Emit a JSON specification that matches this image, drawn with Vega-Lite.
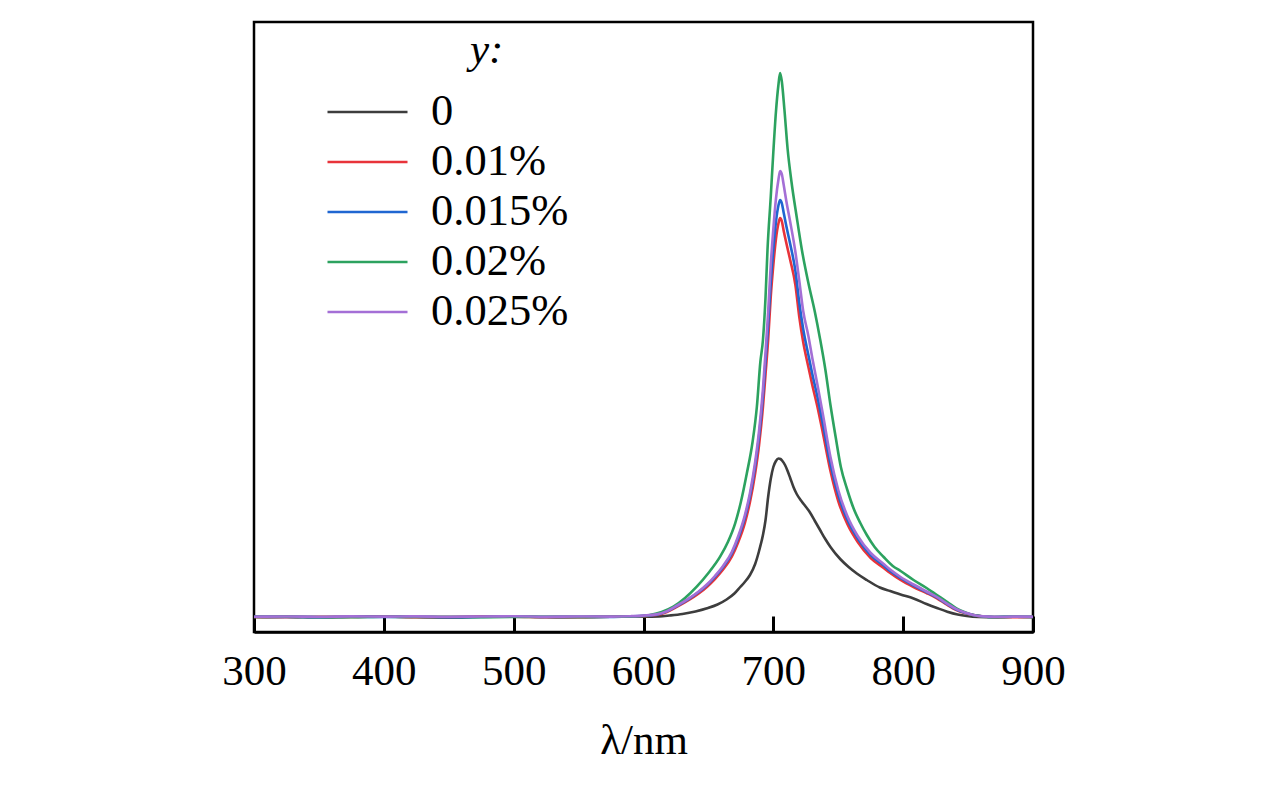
{
  "$schema": "https://vega.github.io/schema/vega-lite/v6.json",
  "autosize": {"type": "none"},
  "padding": {"left": 254, "top": 22, "right": 243, "bottom": 155},
  "width": 779,
  "height": 610,
  "background": "white",
  "title": {
    "text": "y:",
    "anchor": "start",
    "frame": "group",
    "dx": 216,
    "offset": -50,
    "font": "Liberation Serif",
    "fontSize": 43,
    "fontStyle": "italic",
    "fontWeight": "normal",
    "color": "black"
  },
  "config": {
    "view": {"stroke": "black", "strokeWidth": 2.5},
    "axis": {
      "labelFont": "Liberation Serif",
      "titleFont": "Liberation Serif",
      "labelColor": "black",
      "titleColor": "black"
    }
  },
  "datasets": {
    "spectra": [
      {"c":"0","wl":300,"I":0},{"c":"0","wl":325,"I":0.4},{"c":"0","wl":350,"I":-0.3},{"c":"0","wl":375,"I":0.3},{"c":"0","wl":400,"I":0.6},{"c":"0","wl":425,"I":0},{"c":"0","wl":450,"I":-0.4},{"c":"0","wl":475,"I":0.2},{"c":"0","wl":500,"I":0.5},{"c":"0","wl":525,"I":0},{"c":"0","wl":550,"I":-0.2},{"c":"0","wl":575,"I":0.2},{"c":"0","wl":600,"I":0.3},{"c":"0","wl":612,"I":0.6},{"c":"0","wl":620,"I":1.5},{"c":"0","wl":630,"I":3},{"c":"0","wl":640,"I":5.5},{"c":"0","wl":649,"I":8.7},{"c":"0","wl":657,"I":12.5},{"c":"0","wl":664,"I":17.5},{"c":"0","wl":670,"I":23.5},{"c":"0","wl":674.5,"I":30},{"c":"0","wl":678,"I":35},{"c":"0","wl":682,"I":42},{"c":"0","wl":686,"I":53},{"c":"0","wl":689,"I":66},{"c":"0","wl":692,"I":82},{"c":"0","wl":694,"I":97},{"c":"0","wl":696,"I":120},{"c":"0","wl":698,"I":138},{"c":"0","wl":700,"I":150},{"c":"0","wl":702,"I":156},{"c":"0","wl":704,"I":158.5},{"c":"0","wl":705.5,"I":158},{"c":"0","wl":707,"I":156},{"c":"0","wl":709,"I":152},{"c":"0","wl":711,"I":146},{"c":"0","wl":713,"I":139},{"c":"0","wl":715.5,"I":130},{"c":"0","wl":718,"I":123},{"c":"0","wl":721,"I":117},{"c":"0","wl":724,"I":112},{"c":"0","wl":728,"I":105},{"c":"0","wl":732,"I":96},{"c":"0","wl":736,"I":87},{"c":"0","wl":740,"I":78},{"c":"0","wl":744,"I":70},{"c":"0","wl":751.5,"I":58},{"c":"0","wl":758,"I":50},{"c":"0","wl":764.3,"I":43.5},{"c":"0","wl":772,"I":37},{"c":"0","wl":782,"I":29.5},{"c":"0","wl":790,"I":26},{"c":"0","wl":798,"I":22.5},{"c":"0","wl":808,"I":18.5},{"c":"0","wl":818,"I":13},{"c":"0","wl":826,"I":9},{"c":"0","wl":834,"I":5.3},{"c":"0","wl":842,"I":2.5},{"c":"0","wl":849,"I":1},{"c":"0","wl":858,"I":0},{"c":"0","wl":870,"I":-0.3},{"c":"0","wl":885,"I":0.2},{"c":"0","wl":900,"I":0},

      {"c":"0.01%","wl":300,"I":0},{"c":"0.01%","wl":325,"I":-0.3},{"c":"0.01%","wl":350,"I":0.3},{"c":"0.01%","wl":375,"I":0},{"c":"0.01%","wl":400,"I":0.5},{"c":"0.01%","wl":425,"I":-0.2},{"c":"0.01%","wl":450,"I":0},{"c":"0.01%","wl":475,"I":0.4},{"c":"0.01%","wl":500,"I":0.3},{"c":"0.01%","wl":525,"I":-0.3},{"c":"0.01%","wl":550,"I":0},{"c":"0.01%","wl":575,"I":0.3},{"c":"0.01%","wl":590,"I":0.5},{"c":"0.01%","wl":600,"I":1},{"c":"0.01%","wl":610,"I":2},{"c":"0.01%","wl":618,"I":5},{"c":"0.01%","wl":626,"I":10.3},{"c":"0.01%","wl":635,"I":17},{"c":"0.01%","wl":642,"I":23},{"c":"0.01%","wl":649,"I":30.3},{"c":"0.01%","wl":655,"I":38},{"c":"0.01%","wl":661,"I":47},{"c":"0.01%","wl":668,"I":60.3},{"c":"0.01%","wl":673,"I":75},{"c":"0.01%","wl":678,"I":93.7},{"c":"0.01%","wl":682,"I":115},{"c":"0.01%","wl":686,"I":143.7},{"c":"0.01%","wl":689,"I":172},{"c":"0.01%","wl":692,"I":210},{"c":"0.01%","wl":694,"I":243},{"c":"0.01%","wl":696,"I":277},{"c":"0.01%","wl":698,"I":320},{"c":"0.01%","wl":700,"I":352},{"c":"0.01%","wl":702,"I":378},{"c":"0.01%","wl":704,"I":394},{"c":"0.01%","wl":705.2,"I":399},{"c":"0.01%","wl":706.5,"I":396},{"c":"0.01%","wl":708,"I":386},{"c":"0.01%","wl":710,"I":374},{"c":"0.01%","wl":713,"I":357},{"c":"0.01%","wl":717,"I":332},{"c":"0.01%","wl":720,"I":300},{"c":"0.01%","wl":723,"I":275},{"c":"0.01%","wl":727,"I":250},{"c":"0.01%","wl":730,"I":232},{"c":"0.01%","wl":734,"I":210},{"c":"0.01%","wl":738,"I":185},{"c":"0.01%","wl":744,"I":146},{"c":"0.01%","wl":750,"I":116},{"c":"0.01%","wl":757,"I":93},{"c":"0.01%","wl":765,"I":75},{"c":"0.01%","wl":775,"I":59},{"c":"0.01%","wl":785,"I":49},{"c":"0.01%","wl":790,"I":44},{"c":"0.01%","wl":798,"I":37},{"c":"0.01%","wl":808,"I":30},{"c":"0.01%","wl":818,"I":24},{"c":"0.01%","wl":826,"I":18.7},{"c":"0.01%","wl":834,"I":12},{"c":"0.01%","wl":841,"I":7},{"c":"0.01%","wl":848,"I":3.8},{"c":"0.01%","wl":854,"I":2},{"c":"0.01%","wl":862,"I":0.5},{"c":"0.01%","wl":870,"I":0},{"c":"0.01%","wl":885,"I":-0.3},{"c":"0.01%","wl":900,"I":0},

      {"c":"0.015%","wl":300,"I":0.2},{"c":"0.015%","wl":325,"I":0},{"c":"0.015%","wl":350,"I":-0.2},{"c":"0.015%","wl":375,"I":0.3},{"c":"0.015%","wl":400,"I":0},{"c":"0.015%","wl":425,"I":0.3},{"c":"0.015%","wl":450,"I":-0.3},{"c":"0.015%","wl":475,"I":0},{"c":"0.015%","wl":500,"I":0.4},{"c":"0.015%","wl":525,"I":0},{"c":"0.015%","wl":550,"I":0.2},{"c":"0.015%","wl":575,"I":0},{"c":"0.015%","wl":590,"I":0.6},{"c":"0.015%","wl":600,"I":1.2},{"c":"0.015%","wl":610,"I":2.4},{"c":"0.015%","wl":618,"I":5.6},{"c":"0.015%","wl":626,"I":11.2},{"c":"0.015%","wl":635,"I":18.2},{"c":"0.015%","wl":642,"I":24.5},{"c":"0.015%","wl":649,"I":32},{"c":"0.015%","wl":655,"I":40},{"c":"0.015%","wl":661,"I":49.5},{"c":"0.015%","wl":668,"I":63.5},{"c":"0.015%","wl":673,"I":79},{"c":"0.015%","wl":678,"I":99},{"c":"0.015%","wl":682,"I":121},{"c":"0.015%","wl":686,"I":151},{"c":"0.015%","wl":689,"I":181},{"c":"0.015%","wl":692,"I":221},{"c":"0.015%","wl":694,"I":256},{"c":"0.015%","wl":696,"I":292},{"c":"0.015%","wl":698,"I":335},{"c":"0.015%","wl":700,"I":368},{"c":"0.015%","wl":702,"I":395},{"c":"0.015%","wl":704,"I":412},{"c":"0.015%","wl":705.2,"I":417},{"c":"0.015%","wl":706.5,"I":414},{"c":"0.015%","wl":708,"I":404},{"c":"0.015%","wl":710,"I":391},{"c":"0.015%","wl":713,"I":373},{"c":"0.015%","wl":717,"I":346},{"c":"0.015%","wl":720,"I":314},{"c":"0.015%","wl":723,"I":288},{"c":"0.015%","wl":727,"I":262},{"c":"0.015%","wl":730,"I":243},{"c":"0.015%","wl":734,"I":220},{"c":"0.015%","wl":738,"I":194},{"c":"0.015%","wl":744,"I":153},{"c":"0.015%","wl":750,"I":122},{"c":"0.015%","wl":757,"I":97.5},{"c":"0.015%","wl":765,"I":78.5},{"c":"0.015%","wl":775,"I":62},{"c":"0.015%","wl":785,"I":51.5},{"c":"0.015%","wl":790,"I":46},{"c":"0.015%","wl":798,"I":39},{"c":"0.015%","wl":808,"I":31.5},{"c":"0.015%","wl":818,"I":25},{"c":"0.015%","wl":826,"I":19.5},{"c":"0.015%","wl":834,"I":12.8},{"c":"0.015%","wl":841,"I":7.5},{"c":"0.015%","wl":848,"I":4},{"c":"0.015%","wl":854,"I":2},{"c":"0.015%","wl":862,"I":0.5},{"c":"0.015%","wl":870,"I":0},{"c":"0.015%","wl":885,"I":0.2},{"c":"0.015%","wl":900,"I":0},

      {"c":"0.02%","wl":300,"I":0},{"c":"0.02%","wl":325,"I":0.2},{"c":"0.02%","wl":350,"I":0},{"c":"0.02%","wl":375,"I":-0.2},{"c":"0.02%","wl":400,"I":0.3},{"c":"0.02%","wl":425,"I":0},{"c":"0.02%","wl":450,"I":0.2},{"c":"0.02%","wl":475,"I":-0.2},{"c":"0.02%","wl":500,"I":0},{"c":"0.02%","wl":525,"I":0.3},{"c":"0.02%","wl":550,"I":0},{"c":"0.02%","wl":575,"I":0.2},{"c":"0.02%","wl":590,"I":0.5},{"c":"0.02%","wl":600,"I":1},{"c":"0.02%","wl":605,"I":2},{"c":"0.02%","wl":614,"I":5},{"c":"0.02%","wl":623,"I":10.3},{"c":"0.02%","wl":632,"I":19},{"c":"0.02%","wl":641,"I":30.3},{"c":"0.02%","wl":650,"I":44},{"c":"0.02%","wl":659,"I":60.3},{"c":"0.02%","wl":665,"I":75},{"c":"0.02%","wl":670.6,"I":93.7},{"c":"0.02%","wl":675,"I":115},{"c":"0.02%","wl":679.6,"I":143.7},{"c":"0.02%","wl":684,"I":175},{"c":"0.02%","wl":687.3,"I":210},{"c":"0.02%","wl":690,"I":255},{"c":"0.02%","wl":692,"I":277},{"c":"0.02%","wl":694,"I":320},{"c":"0.02%","wl":695.5,"I":367},{"c":"0.02%","wl":698,"I":420},{"c":"0.02%","wl":700,"I":465},{"c":"0.02%","wl":702,"I":505},{"c":"0.02%","wl":704,"I":533},{"c":"0.02%","wl":705.2,"I":544},{"c":"0.02%","wl":706.5,"I":536},{"c":"0.02%","wl":708.5,"I":508},{"c":"0.02%","wl":711,"I":468},{"c":"0.02%","wl":714,"I":435},{"c":"0.02%","wl":718,"I":400},{"c":"0.02%","wl":722,"I":367},{"c":"0.02%","wl":727,"I":334},{"c":"0.02%","wl":732,"I":305},{"c":"0.02%","wl":736,"I":278},{"c":"0.02%","wl":740,"I":248},{"c":"0.02%","wl":744,"I":212},{"c":"0.02%","wl":748,"I":180},{"c":"0.02%","wl":752,"I":150},{"c":"0.02%","wl":757,"I":127},{"c":"0.02%","wl":762,"I":108},{"c":"0.02%","wl":767,"I":94},{"c":"0.02%","wl":772,"I":82},{"c":"0.02%","wl":778,"I":70},{"c":"0.02%","wl":785,"I":60},{"c":"0.02%","wl":792,"I":51},{"c":"0.02%","wl":798,"I":46},{"c":"0.02%","wl":808,"I":37},{"c":"0.02%","wl":818,"I":29},{"c":"0.02%","wl":826,"I":22},{"c":"0.02%","wl":834,"I":15},{"c":"0.02%","wl":841,"I":8.7},{"c":"0.02%","wl":848,"I":4.5},{"c":"0.02%","wl":854,"I":2},{"c":"0.02%","wl":862,"I":0.5},{"c":"0.02%","wl":870,"I":0},{"c":"0.02%","wl":885,"I":0.2},{"c":"0.02%","wl":900,"I":0},

      {"c":"0.025%","wl":300,"I":0.3},{"c":"0.025%","wl":325,"I":0.5},{"c":"0.025%","wl":350,"I":0.2},{"c":"0.025%","wl":375,"I":0.6},{"c":"0.025%","wl":400,"I":0.4},{"c":"0.025%","wl":425,"I":0.6},{"c":"0.025%","wl":450,"I":0.2},{"c":"0.025%","wl":475,"I":0.5},{"c":"0.025%","wl":500,"I":0.7},{"c":"0.025%","wl":525,"I":0.3},{"c":"0.025%","wl":550,"I":0.5},{"c":"0.025%","wl":575,"I":0.4},{"c":"0.025%","wl":590,"I":0.8},{"c":"0.025%","wl":600,"I":1.4},{"c":"0.025%","wl":610,"I":2.6},{"c":"0.025%","wl":618,"I":5.8},{"c":"0.025%","wl":626,"I":11.5},{"c":"0.025%","wl":635,"I":18.6},{"c":"0.025%","wl":642,"I":25},{"c":"0.025%","wl":649,"I":32.7},{"c":"0.025%","wl":655,"I":41},{"c":"0.025%","wl":661,"I":50.5},{"c":"0.025%","wl":668,"I":65},{"c":"0.025%","wl":673,"I":81},{"c":"0.025%","wl":678,"I":101.5},{"c":"0.025%","wl":682,"I":124},{"c":"0.025%","wl":686,"I":155},{"c":"0.025%","wl":689,"I":186},{"c":"0.025%","wl":692,"I":228},{"c":"0.025%","wl":694,"I":265},{"c":"0.025%","wl":696,"I":305},{"c":"0.025%","wl":698,"I":352},{"c":"0.025%","wl":700,"I":388},{"c":"0.025%","wl":702,"I":418},{"c":"0.025%","wl":704,"I":438},{"c":"0.025%","wl":705.2,"I":446},{"c":"0.025%","wl":706.5,"I":443},{"c":"0.025%","wl":708,"I":432},{"c":"0.025%","wl":710,"I":416},{"c":"0.025%","wl":713,"I":395},{"c":"0.025%","wl":717,"I":365},{"c":"0.025%","wl":720,"I":336},{"c":"0.025%","wl":723,"I":306},{"c":"0.025%","wl":727,"I":281},{"c":"0.025%","wl":730,"I":259},{"c":"0.025%","wl":734,"I":232},{"c":"0.025%","wl":738,"I":204},{"c":"0.025%","wl":744,"I":160},{"c":"0.025%","wl":750,"I":127},{"c":"0.025%","wl":757,"I":101},{"c":"0.025%","wl":765,"I":81},{"c":"0.025%","wl":775,"I":64},{"c":"0.025%","wl":785,"I":53},{"c":"0.025%","wl":790,"I":47.5},{"c":"0.025%","wl":798,"I":40},{"c":"0.025%","wl":808,"I":32.5},{"c":"0.025%","wl":818,"I":25.5},{"c":"0.025%","wl":826,"I":20},{"c":"0.025%","wl":834,"I":13.2},{"c":"0.025%","wl":841,"I":7.8},{"c":"0.025%","wl":848,"I":4.2},{"c":"0.025%","wl":854,"I":2.1},{"c":"0.025%","wl":862,"I":0.6},{"c":"0.025%","wl":870,"I":0.2},{"c":"0.025%","wl":885,"I":0.4},{"c":"0.025%","wl":900,"I":0.3}
    ]
  },
  "data": {"name": "spectra"},
  "mark": {"type": "line", "strokeWidth": 2.6, "interpolate": "monotone", "clip": true},
  "encoding": {
    "x": {
      "field": "wl",
      "type": "quantitative",
      "scale": {"domain": [300, 900], "nice": false, "zero": false},
      "axis": {
        "title": "λ/nm",
        "titleFontSize": 43,
        "titleFontWeight": "normal",
        "titlePadding": 26,
        "values": [300, 400, 500, 600, 700, 800, 900],
        "labelFontSize": 43,
        "labelFlush": false,
        "labelPadding": 34,
        "tickSize": -16,
        "tickWidth": 3,
        "tickColor": "black",
        "domainColor": "black",
        "domainWidth": 2.5,
        "grid": false
      }
    },
    "y": {
      "field": "I",
      "type": "quantitative",
      "scale": {"domain": [-15, 595], "nice": false, "zero": false},
      "axis": null
    },
    "color": {
      "field": "c",
      "type": "nominal",
      "scale": {
        "domain": ["0", "0.01%", "0.015%", "0.02%", "0.025%"],
        "range": ["#3d3d3d", "#e8333a", "#1f66d1", "#2ca25f", "#a46fd6"]
      },
      "legend": {
        "title": null,
        "orient": "none",
        "legendX": 72,
        "legendY": 65,
        "padding": 0,
        "symbolType": "stroke",
        "symbolSize": 6400,
        "symbolStrokeWidth": 2.6,
        "clipHeight": 50,
        "rowPadding": 0,
        "labelOffset": 22,
        "labelFont": "Liberation Serif",
        "labelFontSize": 44.5,
        "labelColor": "black",
        "labelLimit": 400
      }
    }
  }
}
